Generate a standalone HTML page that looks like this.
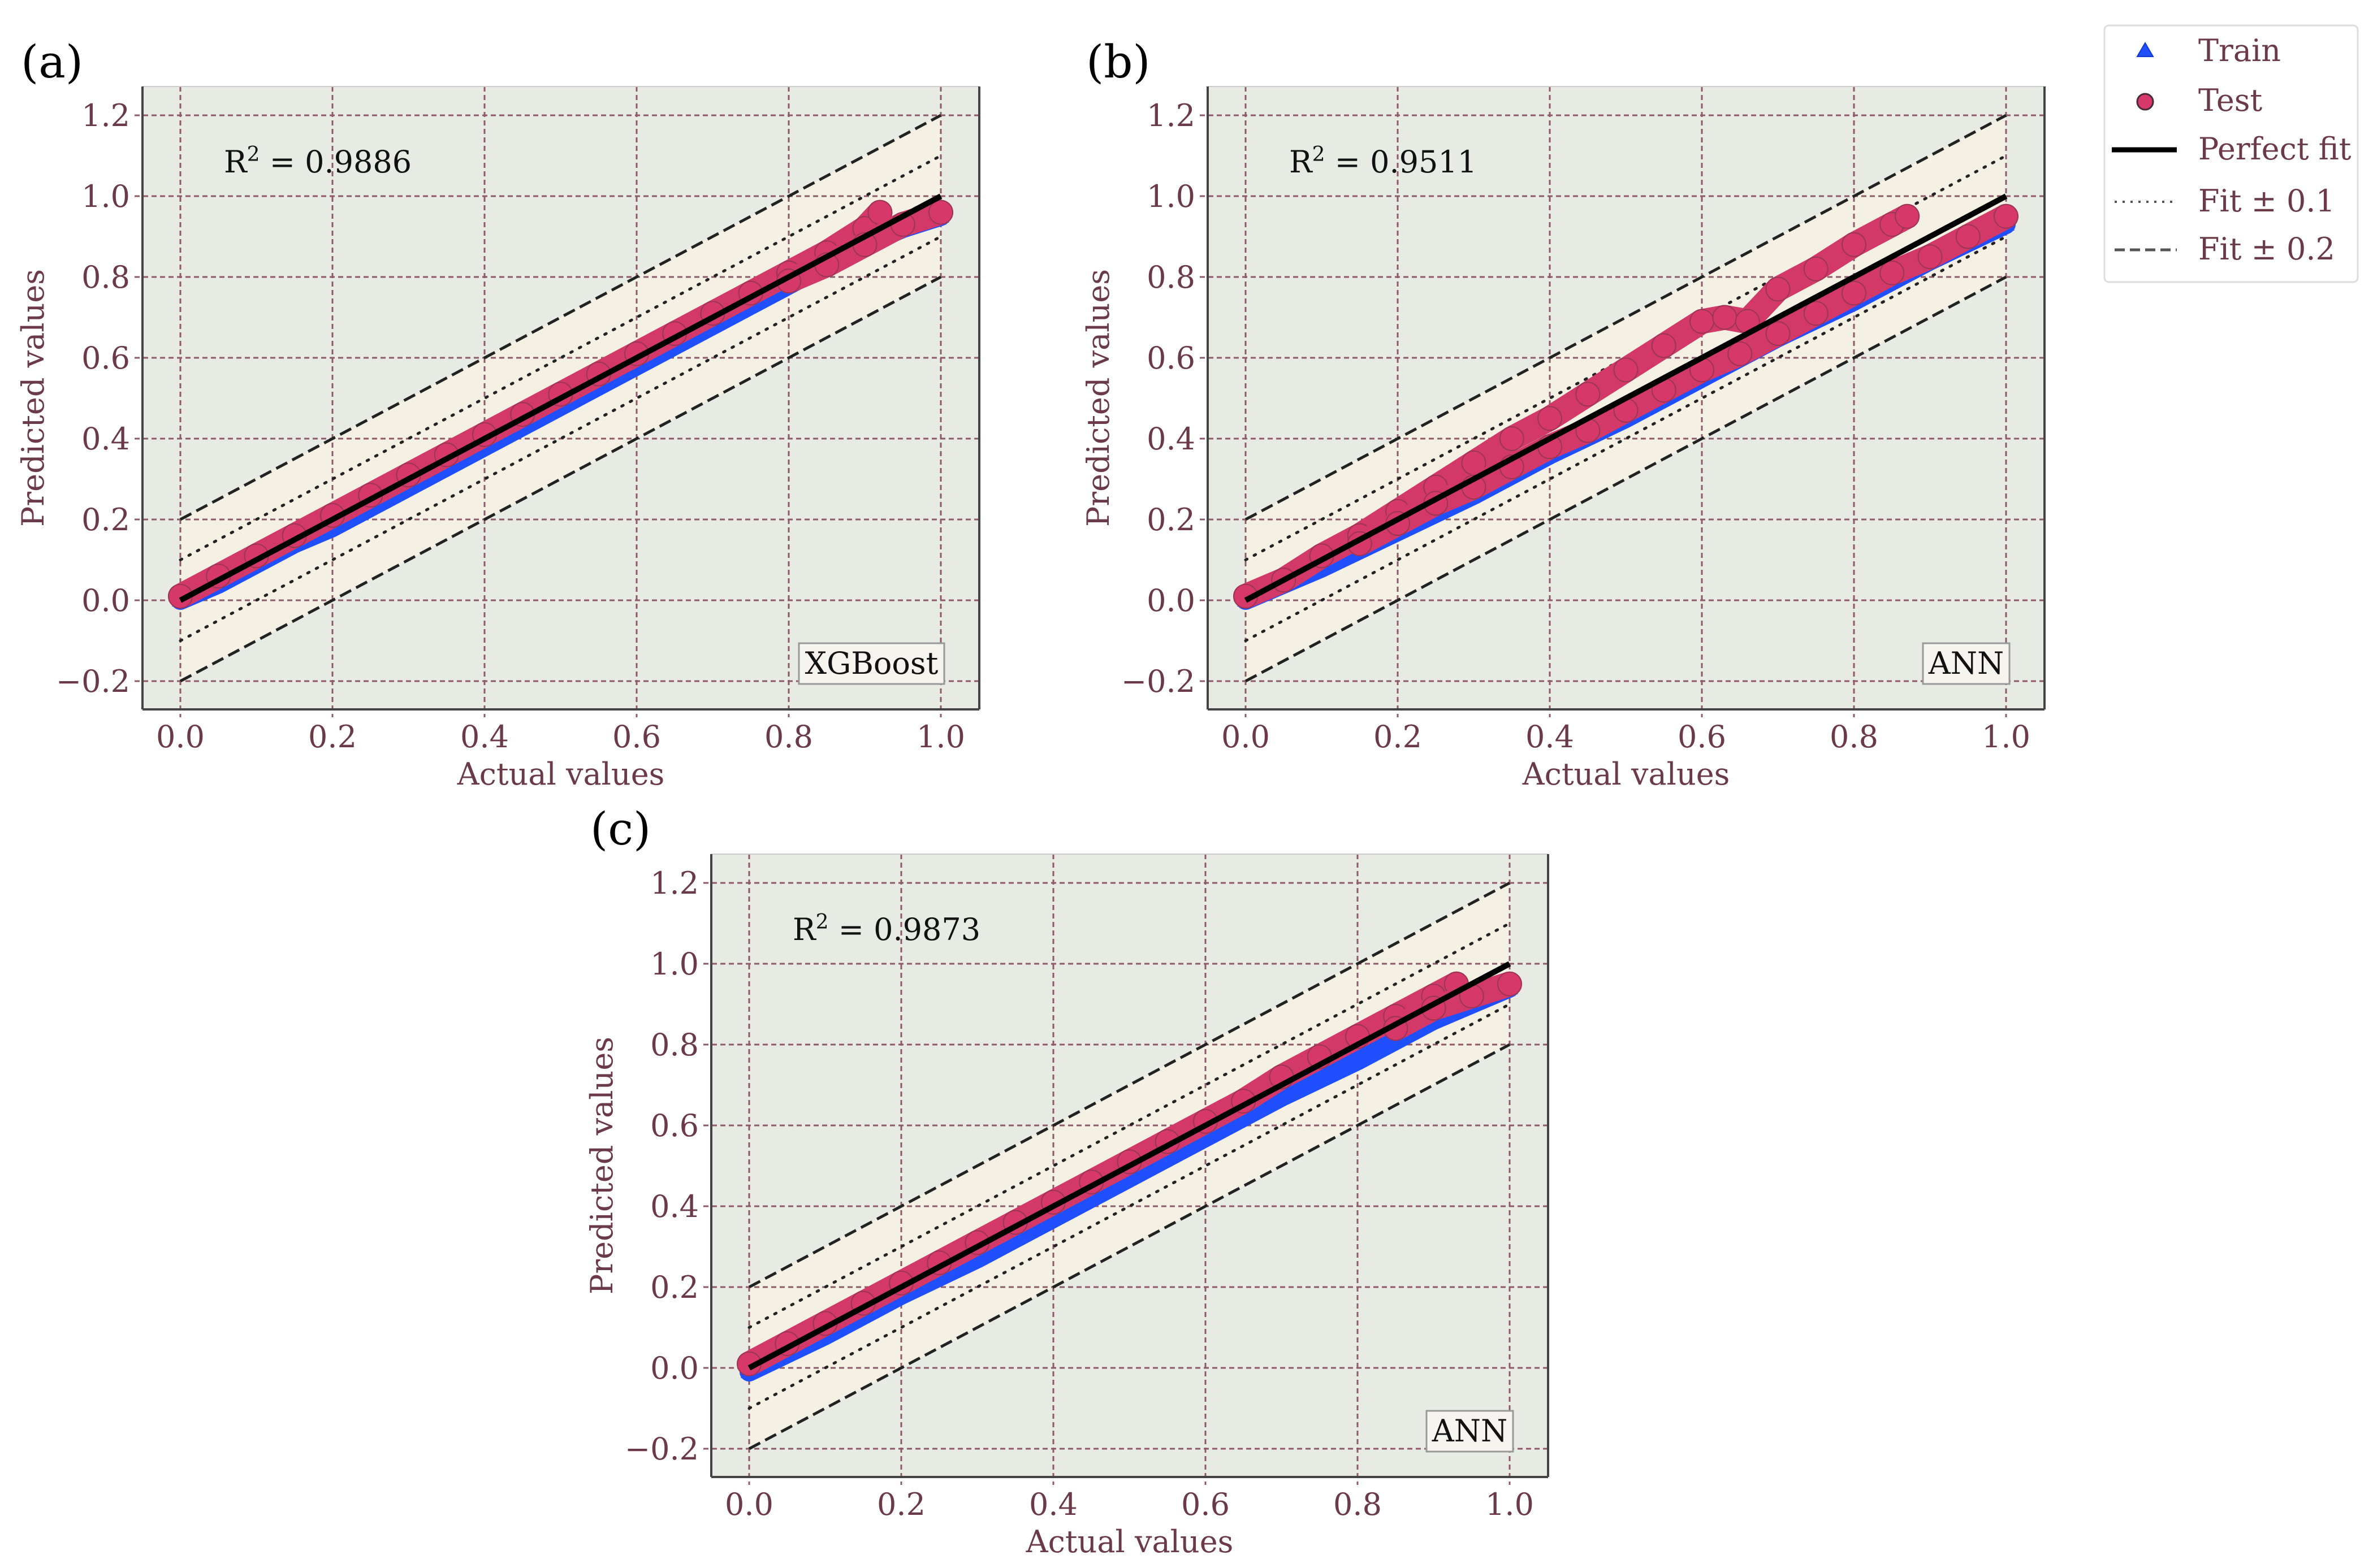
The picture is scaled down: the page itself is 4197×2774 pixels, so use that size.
<!DOCTYPE html>
<html><head><meta charset="utf-8"><style>
html,body{margin:0;padding:0;background:#fff}
svg{display:block}
text{font-family:"DejaVu Serif","Liberation Serif",serif}
</style></head><body>
<svg id="fig" width="4197" height="2774" viewBox="0 0 4197 2774" xmlns="http://www.w3.org/2000/svg">
<rect width="4197" height="2774" fill="#fff"/>
<g id="legend">
<rect x="3722" y="45" width="448" height="454" rx="8" fill="#fff" stroke="#ddd" stroke-width="3"/>
<g><polygon points="3794,76 3780,100 3808,100" fill="#1f4fff" stroke="#1238d8" stroke-width="2"/><text x="3888" y="108" font-size="54" fill="#6b3a48">Train</text></g>
<g><circle cx="3794" cy="180" r="14" fill="#d6386a" stroke="#4a2a3a" stroke-width="3"/><text x="3888" y="196" font-size="54" fill="#6b3a48">Test</text></g>
<g><line x1="3735" y1="265" x2="3850" y2="265" stroke="#000" stroke-width="9"/><text x="3888" y="282" font-size="54" fill="#6b3a48">Perfect fit</text></g>
<g><line x1="3740" y1="357" x2="3850" y2="357" stroke="#555" stroke-width="4" stroke-dasharray="4,10"/><text x="3888" y="374" font-size="54" fill="#6b3a48">Fit ± 0.1</text></g>
<g><line x1="3740" y1="442" x2="3850" y2="442" stroke="#555" stroke-width="5" stroke-dasharray="18,9"/><text x="3888" y="459" font-size="54" fill="#6b3a48">Fit ± 0.2</text></g>
</g>
</svg>
<script>
const xTicks=[0,0.2,0.4,0.6,0.8,1.0];
const yTicks=[-0.2,0,0.2,0.4,0.6,0.8,1.0,1.2];
// panel (a) XGBoost
const aTestX=[0,0.05,0.1,0.15,0.2,0.25,0.3,0.35,0.4,0.45,0.5,0.55,0.6,0.65,0.7,0.75,0.8,0.85,0.9,0.92];
const aTestY=[0.01,0.06,0.11,0.16,0.21,0.26,0.31,0.36,0.41,0.46,0.51,0.56,0.61,0.66,0.71,0.76,0.81,0.86,0.92,0.96];
const aTest2X=[0.8,0.85,0.9,0.95,1.0];
const aTest2Y=[0.79,0.83,0.88,0.93,0.96];
const aTrainX=[0,0.05,0.1,0.15,0.2,0.25,0.3,0.35,0.4,0.45,0.5,0.55,0.6,0.65,0.7,0.75,0.8,0.85,0.9,0.95,1.0];
const aTrainY=[0,0.04,0.09,0.14,0.18,0.23,0.28,0.33,0.38,0.43,0.48,0.53,0.58,0.63,0.68,0.73,0.78,0.83,0.88,0.92,0.95];
// panel (b) ANN
const bTestX=[0,0.05,0.1,0.15,0.2,0.25,0.3,0.35,0.4,0.45,0.5,0.55,0.6,0.63,0.66,0.7,0.75,0.8,0.85,0.87];
const bTestY=[0.01,0.05,0.11,0.16,0.22,0.28,0.34,0.40,0.45,0.51,0.57,0.63,0.69,0.70,0.69,0.77,0.82,0.88,0.93,0.95];
const bTest2X=[0.15,0.2,0.25,0.3,0.35,0.4,0.45,0.5,0.55,0.6,0.65,0.7,0.75,0.8,0.85,0.9,0.95,1.0];
const bTest2Y=[0.14,0.19,0.24,0.28,0.33,0.38,0.42,0.47,0.52,0.57,0.61,0.66,0.71,0.76,0.81,0.85,0.90,0.95];
const bTrainX=[0,0.1,0.2,0.3,0.4,0.5,0.6,0.7,0.8,0.9,1.0];
const bTrainY=[0,0.08,0.17,0.26,0.36,0.45,0.55,0.65,0.74,0.84,0.93];
// panel (c) ANN
const cTestX=[0,0.05,0.1,0.15,0.2,0.25,0.3,0.35,0.4,0.45,0.5,0.55,0.6,0.65,0.7,0.75,0.8,0.85,0.9,0.93];
const cTestY=[0.01,0.06,0.11,0.16,0.21,0.26,0.31,0.36,0.41,0.46,0.51,0.56,0.61,0.66,0.72,0.77,0.82,0.87,0.92,0.95];
const cTest2X=[0.85,0.9,0.95,1.0];
const cTest2Y=[0.84,0.89,0.92,0.95];
const cTrainX=[0,0.1,0.2,0.3,0.4,0.5,0.6,0.7,0.8,0.9,1.0];
const cTrainY=[-0.01,0.08,0.18,0.27,0.37,0.47,0.57,0.67,0.76,0.86,0.94];
const r2Values=['0.9886','0.9511','0.9873'];
const modelNames=['XGBoost','ANN','ANN'];
const panelLetters=['(a)','(b)','(c)'];

const NS='http://www.w3.org/2000/svg';
const svg=document.getElementById('fig');
const legend=document.getElementById('legend');
function mk(tag,attrs,parent){const e=document.createElementNS(NS,tag);for(const k in attrs)e.setAttribute(k,attrs[k]);(parent||svg).insertBefore(e,parent?null:legend);return e;}
const fmt=v=>(v<0?'\u2212':'')+Math.abs(v).toFixed(1);
const ML='#6b3a48';

const panels=[
 {ox:0,oy:0,test:[aTestX,aTestY],test2:[aTest2X,aTest2Y],train:[aTrainX,aTrainY],boxW:257,name:'xgboost'},
 {ox:1884,oy:0,test:[bTestX,bTestY],test2:[bTest2X,bTest2Y],train:[bTrainX,bTrainY],boxW:153,name:'ann-b'},
 {ox:1006,oy:1358,test:[cTestX,cTestY],test2:[cTest2X,cTest2Y],train:[cTrainX,cTrainY],boxW:153,name:'ann-c'}
];
panels.forEach((p,i)=>{
 const g=mk('g',{transform:`translate(${p.ox},${p.oy})`});
 
 
 const L=252,R=1732,T=153,B=1255;
 const X=v=>319+1345*v, Y=v=>1062-715*v;
 mk('rect',{x:L,y:T,width:R-L,height:B-T,fill:'#e7ebe3'},g);
 const band=mk('polygon',{points:`${X(0)},${Y(0.2)} ${X(1)},${Y(1.2)} ${X(1)},${Y(0.8)} ${X(0)},${Y(-0.2)}`,fill:'#f4f0e4'},g);
 
 
 xTicks.forEach(v=>{
  mk('line',{x1:X(v),y1:T,x2:X(v),y2:B+14,stroke:'#8c5a68','stroke-width':3,'stroke-dasharray':'9,6'},g);
  const t=mk('text',{x:X(v),y:1322,'font-size':54,fill:ML,'text-anchor':'middle'},g);t.textContent=fmt(v);
  
  
 });
 yTicks.forEach(v=>{
  mk('line',{x1:L-14,y1:Y(v),x2:R,y2:Y(v),stroke:'#8c5a68','stroke-width':3,'stroke-dasharray':'9,6'},g);
  const t=mk('text',{x:230,y:Y(v)+19,'font-size':54,fill:ML,'text-anchor':'end'},g);t.textContent=fmt(v);
  
  
 });
 [[0.2,'d'],[-0.2,'d'],[0.1,'o'],[-0.1,'o']].forEach(([o,s])=>{
  const ln=mk('line',{x1:X(0),y1:Y(o),x2:X(1),y2:Y(1+o),stroke:'#222','stroke-width':s=='d'?5:5,'stroke-dasharray':s=='d'?'22,10':'3,14','stroke-linecap':s=='d'?'butt':'round'},g);
  
  
 });
 const [tx,ty]=p.train;
 mk('polyline',{points:tx.map((x,k)=>`${X(x)},${Y(ty[k])}`).join(' '),fill:'none',stroke:'#1f4fff','stroke-width':34,'stroke-linejoin':'round','stroke-linecap':'round'},g);
 tx.forEach((x,k)=>{const cx=X(x),cy=Y(ty[k]);
  const tri=mk('polygon',{points:`${cx},${cy-16} ${cx-15},${cy+11} ${cx+15},${cy+11}`,fill:'#1f4fff'},g);
  
  });
 [p.test,p.test2].forEach(([sx,sy])=>{
  mk('polyline',{points:sx.map((x,k)=>`${X(x)},${Y(sy[k])}`).join(' '),fill:'none',stroke:'#d23868','stroke-width':44,'stroke-linejoin':'round','stroke-linecap':'round'},g);
  sx.forEach((x,k)=>{const c=mk('circle',{cx:X(x),cy:Y(sy[k]),r:21,fill:'#d6386a',stroke:'#9a3555','stroke-width':2},g);
   
   });
 });
 const pf=mk('line',{x1:X(0),y1:Y(0),x2:X(1),y2:Y(1),stroke:'#000','stroke-width':10},g);
 
 
 mk('line',{x1:L,y1:T,x2:R,y2:T,stroke:'#ccc','stroke-width':2},g);
 mk('line',{x1:L,y1:T,x2:L,y2:B,stroke:'#444','stroke-width':4},g);
 mk('line',{x1:R,y1:T,x2:R,y2:B,stroke:'#444','stroke-width':4},g);
 mk('line',{x1:L,y1:B,x2:R,y2:B,stroke:'#444','stroke-width':4},g);
 const r2=mk('text',{x:396,y:305,'font-size':54,fill:'#111'},g);
 
 
 r2.innerHTML=`R<tspan dy="-20" font-size="36">2</tspan><tspan dy="20"> = ${r2Values[i]}</tspan>`;
 const bx=1670-p.boxW;
 const box=mk('rect',{x:bx,y:1138,width:p.boxW,height:72,fill:'#f6f4ee',stroke:'#999','stroke-width':3},g);
 
 
 const mt=mk('text',{x:bx+p.boxW/2,y:1192,'font-size':54,fill:'#111','text-anchor':'middle'},g);mt.textContent=modelNames[i];
 
 
 const xl=mk('text',{x:992,y:1388,'font-size':54,fill:ML,'text-anchor':'middle'},g);xl.textContent='Actual values';
 
 
 const yl=mk('text',{x:0,y:0,'font-size':54,fill:ML,'text-anchor':'middle',transform:'translate(77,704) rotate(-90)'},g);yl.textContent='Predicted values';
 
 
});
[[37,137],[1921,137],[1044,1494]].forEach((pos,i)=>{
 const t=mk('text',{x:pos[0],y:pos[1],'font-size':80,fill:'#000','font-family':'Liberation Serif, serif'});
 t.textContent=panelLetters[i];
 
 
});
</script>
</body></html>
